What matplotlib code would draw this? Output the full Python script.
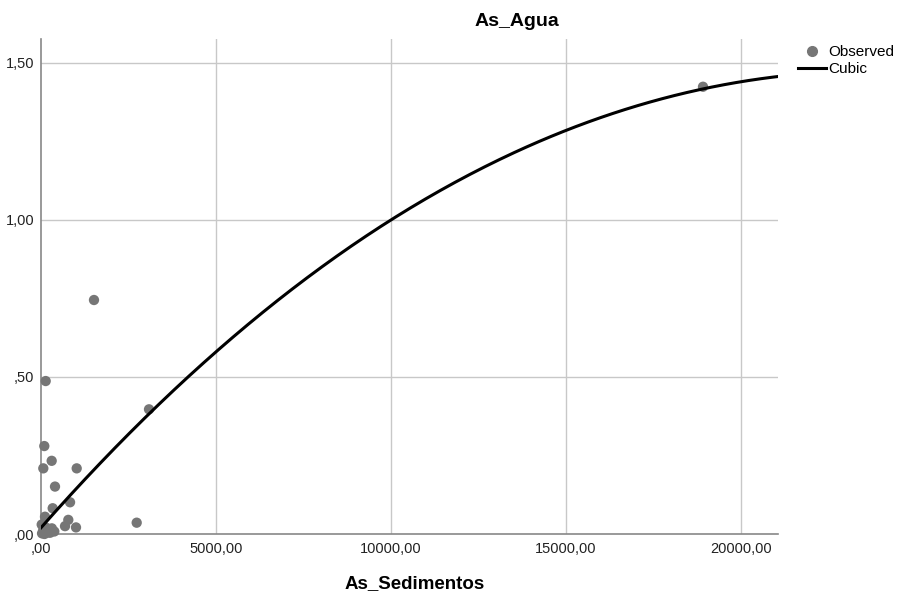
import matplotlib
matplotlib.use("Agg")
import matplotlib.pyplot as plt
import numpy as np
from matplotlib.lines import Line2D

plt.rcParams['font.family'] = ['Liberation Sans', 'DejaVu Sans']

# Observed data (As_Sedimentos, As_Agua)
sed = [18914, 1514, 134, 3086, 94, 305, 66, 1020, 400, 830, 334, 114, 780, 686, 1000, 2734,
       66, 335, 200, 30, 150, 260, 20, 380, 100, 310]
agua = [1.424, 0.745, 0.487, 0.397, 0.28, 0.233, 0.209, 0.209, 0.151, 0.101, 0.082, 0.055, 0.045,
        0.025, 0.021, 0.036, 0.013, 0.01, 0.005, 0.002, 0.02, 0.004, 0.03, 0.008, 0.0, 0.018]

# Cubic fit coefficients (x scaled by 10000)
b0, b1, b2, b3 = 0.02, 1.2633, -0.29, 0.00667

xticks = [0, 5000, 10000, 15000, 20000]
xticklabels = [',00', '5000,00', '10000,00', '15000,00', '20000,00']
yticks = [0, 0.5, 1.0, 1.5]
yticklabels = [',00', ',50', '1,00', '1,50']

fig = plt.figure(figsize=(8.98, 5.95), dpi=100)
ax = fig.add_axes([41/898, 1-534/595, (778-41)/898, (534-39)/595])

ax.set_xlim(0, 21057)
ax.set_ylim(0, 1.576)

for t in xticks[1:]:
    ax.axvline(t, color='#c8c8c8', lw=1.0, zorder=0)
for t in yticks[1:]:
    ax.axhline(t, color='#c8c8c8', lw=1.0, zorder=0)

ax.scatter(sed, agua, s=55, color='#767676', edgecolors='none', zorder=3, clip_on=False)

xs = np.linspace(0, 21057, 300)
u = xs / 10000
ys = b0 + b1*u + b2*u**2 + b3*u**3
ax.plot(xs, ys, color='black', lw=2.2, zorder=4)

for s in ['top', 'right']:
    ax.spines[s].set_visible(False)
for s in ['left', 'bottom']:
    ax.spines[s].set_color('#888888')
    ax.spines[s].set_linewidth(1.2)

ax.set_xticks(xticks)
ax.set_xticklabels(xticklabels, fontsize=10.5, color='#222222')
ax.set_yticks(yticks)
ax.set_yticklabels(yticklabels, fontsize=10.5, color='#222222')
ax.tick_params(axis='x', length=0, pad=6)
ax.tick_params(axis='y', length=0, pad=5)

fig.text(517/898, 1-22/595, 'As_Agua', ha='center', va='center', fontsize=14, fontweight='bold')
fig.text(415/898, 1-584/595, 'As_Sedimentos', ha='center', va='center', fontsize=13.5, fontweight='bold')

handles = [Line2D([], [], marker='o', ls='none', color='#767676', markersize=7),
           Line2D([], [], color='black', lw=2.2)]
leg = fig.legend(handles, ['Observed', 'Cubic'], loc='upper left',
                 bbox_to_anchor=(792/898, 1-39/595), frameon=False, fontsize=11,
                 handlelength=1.8, handletextpad=0.2, labelspacing=0.2, borderaxespad=0)

fig.savefig('out.png', dpi=100, facecolor='white')
